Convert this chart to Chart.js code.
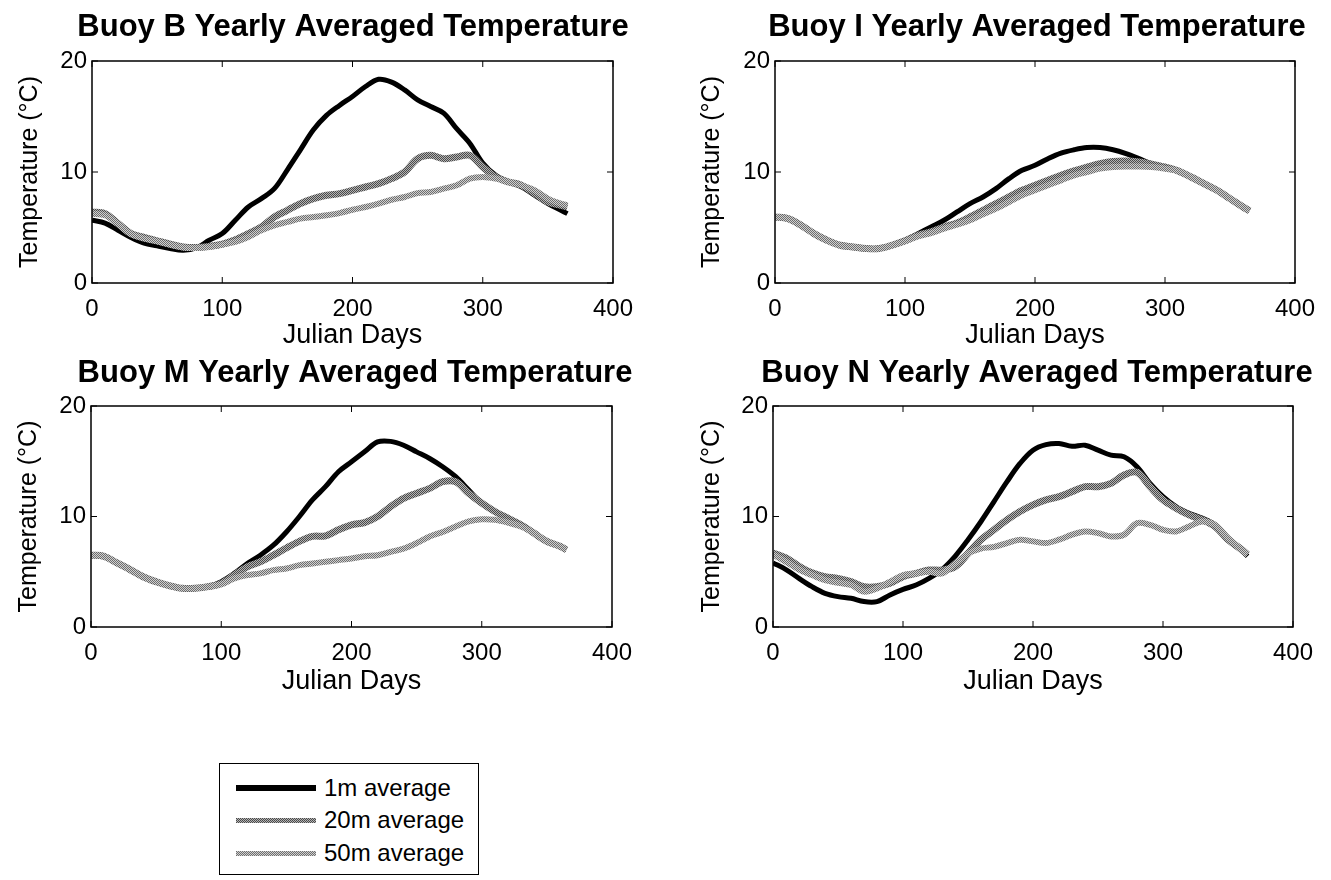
<!DOCTYPE html>
<html>
<head>
<meta charset="utf-8">
<title>Buoy Yearly Averaged Temperature</title>
<script src="https://cdn.jsdelivr.net/npm/chart.js@4.4.1/dist/chart.umd.min.js"></script>
<style>
  html, body {
    margin: 0;
    background: #fff;
    width: 1331px;
    height: 880px;
    overflow: hidden;
  }
  body {
    position: relative;
    font-family: "Liberation Sans", Arial, Helvetica, sans-serif;
  }
  .panel { position: absolute; }
  #legend {
    position: absolute;
    left: 219px;
    top: 763px;
    width: 258px;
    height: 110px;
    border: 1.5px solid #000;
    background: #fff;
    overflow: hidden;
  }
  .legend-row {
    position: absolute;
    left: 0;
    height: 30px;
    width: 100%;
  }
  .legend-line {
    position: absolute;
    left: 16px;
    width: 80px;
    top: 50%;
  }
  .legend-text {
    position: absolute;
    left: 104px;
    top: 0;
    line-height: 30px;
    font-size: 24px;
    color: #000;
    white-space: nowrap;
  }
</style>
</head>
<body>
<div class="panel" style="left:0px;top:0px;width:706px;height:350px"><canvas id="chartB"></canvas></div>
<div class="panel" style="left:660px;top:0px;width:754px;height:350px"><canvas id="chartI"></canvas></div>
<div class="panel" style="left:0px;top:340px;width:710px;height:370px"><canvas id="chartM"></canvas></div>
<div class="panel" style="left:660px;top:340px;width:754px;height:370px"><canvas id="chartN"></canvas></div>

<div id="legend">
  <div class="legend-row" style="top:9px">
    <div class="legend-line" id="lg1" style="height:6px;margin-top:-3px;background:#000"></div>
    <div class="legend-text">1m average</div>
  </div>
  <div class="legend-row" style="top:41px">
    <div class="legend-line" id="lg20" style="height:5px;margin-top:-2px"></div>
    <div class="legend-text">20m average</div>
  </div>
  <div class="legend-row" style="top:74px">
    <div class="legend-line" id="lg50" style="height:5px;margin-top:-2px"></div>
    <div class="legend-text">50m average</div>
  </div>
</div>

<script>
// julian day of each sample
const days = [0, 10, 20, 30, 40, 50, 60, 70, 80, 90, 100, 110, 120, 130, 140, 150, 160, 170, 180,
  190, 200, 210, 220, 230, 240, 250, 260, 270, 280, 290, 300, 310, 320, 330, 340, 350, 360, 365];

const xTicks = [0, 100, 200, 300, 400];
const yTicks = [0, 10, 20];

// Buoy B
const buoyB1m = [5.65, 5.4, 4.75, 4.1, 3.6, 3.35, 3.1, 2.95, 3.15, 3.85, 4.45, 5.65, 6.85, 7.6, 8.5, 10.2, 12.0, 13.8, 15.1,
  16.0, 16.8, 17.7, 18.35, 18.1, 17.4, 16.5, 15.9, 15.3, 13.9, 12.6, 10.8, 9.7, 9.1, 8.65, 7.9, 7.15, 6.55, 6.25];
const buoyB20m = [6.4, 6.25, 5.35, 4.45, 4.1, 3.8, 3.5, 3.25, 3.2, 3.3, 3.5, 3.9, 4.45, 5.05, 5.95, 6.55, 7.15, 7.6, 7.9,
  8.05, 8.35, 8.65, 8.95, 9.4, 10.0, 11.2, 11.5, 11.2, 11.35, 11.5, 10.45, 9.55, 9.1, 8.8, 8.05, 7.3, 7.0, 6.85];
const buoyB50m = [6.25, 6.1, 5.3, 4.4, 4.0, 3.75, 3.45, 3.2, 3.15, 3.25, 3.45, 3.7, 4.15, 4.75, 5.2, 5.5, 5.8, 5.95, 6.1,
  6.3, 6.6, 6.85, 7.15, 7.5, 7.75, 8.1, 8.2, 8.5, 8.8, 9.4, 9.55, 9.4, 9.1, 8.8, 8.35, 7.6, 7.15, 7.0];

// Buoy I
const buoyI1m = [5.95, 5.8, 5.2, 4.45, 3.85, 3.4, 3.25, 3.1, 3.1, 3.4, 3.85, 4.45, 5.05, 5.65, 6.4, 7.15, 7.75, 8.5, 9.4,
  10.15, 10.6, 11.2, 11.7, 12.0, 12.2, 12.2, 12.0, 11.65, 11.2, 10.75, 10.45, 10.1, 9.55, 8.95, 8.35, 7.6, 6.85, 6.5];
const buoyI20m = [5.95, 5.8, 5.2, 4.45, 3.85, 3.4, 3.25, 3.1, 3.1, 3.4, 3.8, 4.3, 4.6, 5.05, 5.4, 5.95, 6.55, 7.15, 7.75,
  8.35, 8.8, 9.25, 9.7, 10.1, 10.45, 10.75, 10.95, 11.0, 10.9, 10.7, 10.45, 10.1, 9.55, 8.95, 8.35, 7.6, 6.85, 6.5];
const buoyI50m = [5.95, 5.8, 5.2, 4.45, 3.85, 3.4, 3.25, 3.1, 3.1, 3.4, 3.75, 4.2, 4.5, 4.9, 5.25, 5.65, 6.2, 6.7, 7.3,
  7.9, 8.35, 8.8, 9.25, 9.7, 10.0, 10.3, 10.45, 10.5, 10.5, 10.45, 10.3, 10.1, 9.55, 8.95, 8.35, 7.6, 6.85, 6.5];

// Buoy M
const buoyM1m = [6.5, 6.4, 5.8, 5.2, 4.55, 4.1, 3.75, 3.5, 3.5, 3.65, 4.1, 4.85, 5.75, 6.5, 7.4, 8.6, 10.0, 11.5, 12.7,
  14.05, 14.95, 15.85, 16.75, 16.8, 16.45, 15.85, 15.25, 14.5, 13.6, 12.4, 11.2, 10.45, 9.85, 9.25, 8.5, 7.75, 7.3, 7.0];
const buoyM20m = [6.5, 6.4, 5.8, 5.2, 4.55, 4.1, 3.75, 3.5, 3.5, 3.65, 3.95, 4.7, 5.45, 5.9, 6.5, 7.15, 7.75, 8.2, 8.25,
  8.8, 9.25, 9.45, 10.0, 10.9, 11.65, 12.1, 12.55, 13.15, 13.15, 12.1, 11.2, 10.45, 9.85, 9.25, 8.5, 7.75, 7.3, 7.0];
const buoyM50m = [6.5, 6.4, 5.8, 5.2, 4.55, 4.1, 3.75, 3.5, 3.5, 3.65, 3.85, 4.4, 4.7, 4.85, 5.15, 5.3, 5.6, 5.75, 5.9,
  6.05, 6.2, 6.4, 6.5, 6.8, 7.1, 7.6, 8.2, 8.6, 9.1, 9.55, 9.75, 9.7, 9.45, 9.1, 8.5, 7.75, 7.3, 7.0];

// Buoy N
const buoyN1m = [5.8, 5.2, 4.4, 3.65, 3.05, 2.75, 2.6, 2.3, 2.3, 2.9, 3.4, 3.8, 4.4, 5.2, 6.4, 7.9, 9.55, 11.35, 13.15,
  14.8, 16.0, 16.5, 16.6, 16.35, 16.45, 16.0, 15.55, 15.4, 14.5, 13.0, 11.8, 10.9, 10.3, 9.85, 9.25, 8.05, 7.0, 6.4];
const buoyN20m = [6.7, 6.25, 5.5, 4.9, 4.55, 4.4, 4.1, 3.65, 3.65, 3.95, 4.55, 4.85, 5.15, 5.15, 5.45, 6.65, 7.9, 8.8, 9.7,
  10.45, 11.05, 11.5, 11.8, 12.25, 12.7, 12.7, 13.0, 13.75, 14.0, 12.7, 11.5, 10.75, 10.15, 9.7, 9.1, 7.9, 7.05, 6.55];
const buoyN50m = [6.55, 5.9, 5.2, 4.7, 4.25, 4.0, 3.8, 3.2, 3.5, 4.1, 4.7, 4.85, 5.0, 4.85, 5.75, 6.65, 7.1, 7.25, 7.6,
  7.9, 7.75, 7.6, 7.9, 8.35, 8.65, 8.5, 8.2, 8.35, 9.4, 9.25, 8.8, 8.65, 9.1, 9.55, 9.25, 8.05, 7.05, 6.55];

const FONT = '"Liberation Sans", Arial, Helvetica, sans-serif';

// halftone-looking grey, like the scanned original
function halftone(dark, light) {
  const c = document.createElement("canvas");
  c.width = 4;
  c.height = 4;
  const g = c.getContext("2d");
  g.fillStyle = light;
  g.fillRect(0, 0, 4, 4);
  g.fillStyle = dark;
  for (let i = 0; i < 4; i++) {
    g.fillRect(i, i, 1, 1);
    g.fillRect((i + 2) % 4, i, 1, 1);
  }
  return c;
}

const tex20 = halftone("#4a4a4a", "#b4b4b4");
const tex50 = halftone("#6e6e6e", "#d0d0d0");

document.getElementById("lg20").style.background = "url(" + tex20.toDataURL() + ")";
document.getElementById("lg50").style.background = "url(" + tex50.toDataURL() + ")";

// box around the plot with inward ticks, matlab style
const boxTicks = {
  id: "boxTicks",
  afterDatasetsDraw(chart) {
    const { ctx, chartArea: a, scales } = chart;
    const len = 6;
    ctx.save();
    ctx.strokeStyle = "#000";
    ctx.lineWidth = 1.5;
    ctx.strokeRect(a.left, a.top, a.right - a.left, a.bottom - a.top);
    ctx.lineWidth = 1;
    ctx.beginPath();
    xTicks.forEach((v) => {
      const px = scales.x.getPixelForValue(v);
      ctx.moveTo(px, a.bottom);
      ctx.lineTo(px, a.bottom - len);
      ctx.moveTo(px, a.top);
      ctx.lineTo(px, a.top + len);
    });
    yTicks.forEach((v) => {
      const py = scales.y.getPixelForValue(v);
      ctx.moveTo(a.left, py);
      ctx.lineTo(a.left + len, py);
      ctx.moveTo(a.right, py);
      ctx.lineTo(a.right - len, py);
    });
    ctx.stroke();
    ctx.restore();
  },
};

function makeChart(id, name, s1, s20, s50, lay) {
  const ctx = document.getElementById(id).getContext("2d");
  const pat20 = ctx.createPattern(tex20, "repeat");
  const pat50 = ctx.createPattern(tex50, "repeat");
  return new Chart(ctx, {
    type: "line",
    data: {
      labels: days,
      datasets: [
        { label: "1m average", data: s1, borderColor: "#000", borderWidth: 5, order: 2 },
        { label: "20m average", data: s20, borderColor: pat20, borderWidth: 7, order: 1 },
        { label: "50m average", data: s50, borderColor: pat50, borderWidth: 6, order: 0 },
      ].map((d) => ({
        ...d,
        data: d.data.map((t, i) => ({ x: days[i], y: t })),
        pointRadius: 0,
        tension: 0.35,
        fill: false,
      })),
    },
    options: {
      responsive: true,
      maintainAspectRatio: false,
      animation: false,
      events: [],
      layout: { padding: 0 },
      plugins: {
        legend: { display: false },
        tooltip: { enabled: false },
        title: {
          display: true,
          text: name,
          color: "#000",
          fullSize: true,
          font: { family: FONT, size: 31, weight: "bold", lineHeight: 1 },
          padding: { top: lay.titleTop, bottom: lay.titleBottom },
        },
      },
      scales: {
        x: {
          type: "linear",
          min: 0,
          max: 400,
          afterBuildTicks: (s) => { s.ticks = xTicks.map((v) => ({ value: v })); },
          afterFit: (s) => { s.height = lay.xHeight; },
          ticks: { color: "#000", font: { family: FONT, size: 24 }, padding: 12, maxRotation: 0, autoSkip: false },
          grid: { display: false, drawTicks: false },
          border: { display: false },
          title: {
            display: true,
            text: "Julian Days",
            color: "#000",
            font: { family: FONT, size: 27, lineHeight: 1 },
            padding: { top: 0, bottom: lay.xTitlePad },
          },
        },
        y: {
          min: 0,
          max: 20,
          afterBuildTicks: (s) => { s.ticks = yTicks.map((v) => ({ value: v })); },
          afterFit: (s) => { s.width = lay.yWidth; },
          ticks: { color: "#000", font: { family: FONT, size: 24 }, padding: 5, autoSkip: false },
          grid: { display: false, drawTicks: false },
          border: { display: false },
          title: {
            display: true,
            text: "Temperature (°C)",
            color: "#000",
            font: { family: FONT, size: 25, lineHeight: 1 },
            padding: { top: lay.yTitlePad, bottom: 0 },
          },
        },
        // empty right-hand axis, only reserves room so the title can run wider than the plot
        yRight: {
          position: "right",
          min: 0,
          max: 20,
          afterFit: (s) => { s.width = lay.rightSpace; },
          ticks: { display: false },
          grid: { display: false, drawTicks: false },
          border: { display: false },
        },
      },
    },
    plugins: [boxTicks],
  });
}

makeChart("chartB", "Buoy B Yearly Averaged Temperature", buoyB1m, buoyB20m, buoyB50m,
  { yWidth: 92, rightSpace: 93, titleTop: 11.9, titleBottom: 18.1, xHeight: 67, xTitlePad: 0.5, yTitlePad: 17.5 });
makeChart("chartI", "Buoy I Yearly Averaged Temperature", buoyI1m, buoyI20m, buoyI50m,
  { yWidth: 115, rightSpace: 119, titleTop: 11.9, titleBottom: 18.1, xHeight: 67, xTitlePad: 0.5, yTitlePad: 39.5 });
makeChart("chartM", "Buoy M Yearly Averaged Temperature", buoyM1m, buoyM20m, buoyM50m,
  { yWidth: 91, rightSpace: 98, titleTop: 17.9, titleBottom: 17.1, xHeight: 83, xTitlePad: 14.5, yTitlePad: 16.5 });
makeChart("chartN", "Buoy N Yearly Averaged Temperature", buoyN1m, buoyN20m, buoyN50m,
  { yWidth: 113, rightSpace: 121, titleTop: 17.9, titleBottom: 17.1, xHeight: 83, xTitlePad: 14.5, yTitlePad: 39.5 });
</script>
</body>
</html>
